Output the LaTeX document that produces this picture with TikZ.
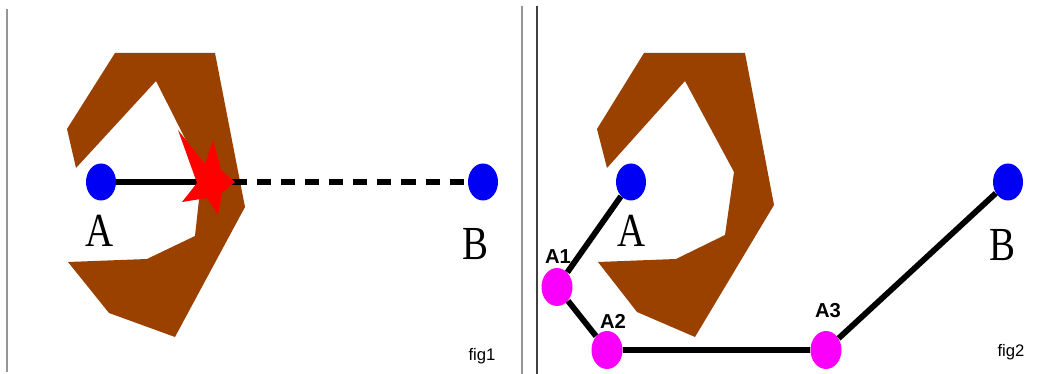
\documentclass[tikz,border=0pt]{standalone}
\usepackage{fontspec}
\setmainfont{Liberation Serif}
\setsansfont{Liberation Sans}
\newfontfamily\namefont[FakeStretch=0.82]{Liberation Serif}
\usetikzlibrary{shapes.geometric}
\definecolor{obstbrown}{RGB}{155,65,0}
\definecolor{ptblue}{RGB}{0,0,245}
\definecolor{ptmagenta}{RGB}{250,0,250}
\definecolor{framegray}{RGB}{150,150,150}

\begin{document}
\begin{tikzpicture}[x=0.02cm, y=-0.02cm,
	endpt/.style={ellipse, fill=ptblue, minimum width=0.6cm, minimum height=0.74cm, inner sep=0pt},
	waypt/.style={ellipse, fill=ptmagenta, minimum width=0.62cm, minimum height=0.76cm, inner sep=0pt},
	bigname/.style={font=\namefont\fontsize{27}{27}\selectfont, inner sep=0pt},
	wayname/.style={font=\sffamily\bfseries\fontsize{11.5}{12}\selectfont, inner sep=0pt},
	figname/.style={font=\sffamily\fontsize{9.5}{10}\selectfont, inner sep=0pt},
	route/.style={line width=3.3pt}]
		\fill[white] (0,0) rectangle (1046,374);
		\useasboundingbox (0,0) rectangle (1046,374);
		% frame lines
		\draw[framegray, line width=1.2pt] (7,9) -- (7,372);
		\draw[framegray, line width=1.2pt] (522,6) -- (522,374);
		\draw[black!75, line width=0.7pt] (537,6) -- (537,374);
		% fig1
		\fill[obstbrown] (115,53) -- (215,53) -- (245,207) -- (175,337) -- (109,313) -- (68,262) -- (147,259) -- (195,236) -- (202,172) -- (156,81) -- (76,168) -- (67,129) -- cycle;
		\node[endpt] (a) at (101,182){};
		\node[endpt] (b) at (483,182){};
		\coordinate (hit) at (233,182);
		\draw[route] (a) -- (hit);
		\draw[route, dash pattern=on 8pt off 5.7pt] (hit) -- (b);
		\fill[red] (178,130) -- (205,164) -- (213,140) -- (221,170) -- (235,182) -- (222,193) -- (218,215) -- (207,198) -- (182,202) -- (197,183) -- cycle;
		\node[bigname] (la) at (100,231){A};
		\node[bigname] (lb) at (475,244){B};
		\node[figname] (f1) at (482,356){fig1};
		% fig2
		\fill[obstbrown] (644,53) -- (745,53) -- (774,205) -- (695,337) -- (637,312) -- (598,262) -- (676,259) -- (725,235) -- (734,172) -- (685,81) -- (607,168) -- (597,129) -- cycle;
		\node[endpt] (a') at (631,182){};
		\node[endpt] (b') at (1008,182){};
		\node[waypt] (a1) at (557,287){};
		\node[waypt] (a2) at (607,350){};
		\node[waypt] (a3) at (826,350){};
		\draw[route] (a') -- (a1) -- (a2);
		\draw[route] (a2) -- (a3) -- (b');
		\node[bigname] (la') at (632,231){A};
		\node[bigname] (lb') at (1002,245){B};
		\node[wayname] (l1) at (558,257){A1};
		\node[wayname] (l2) at (613,321){A2};
		\node[wayname] (l3) at (828,311){A3};
		\node[figname] (f2) at (1011,352){fig2};
		\end{tikzpicture}
\end{document}
